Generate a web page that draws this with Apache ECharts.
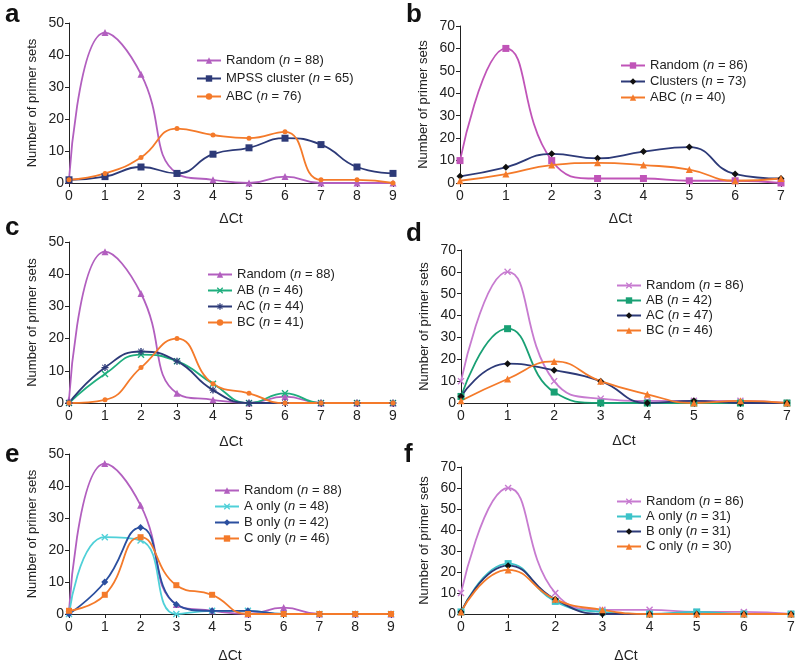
<!DOCTYPE html>
<html>
<head>
<meta charset="utf-8">
<script src="https://cdn.jsdelivr.net/npm/echarts@6/dist/echarts.min.js"></script>
<style>html,body{margin:0;padding:0;background:#fff}#c{width:800px;height:663px}</style>
</head>
<body>
<div id="c"></div>
<script>
// ---- data ----
const ct9 = [0,1,2,3,4,5,6,7,8,9];
const ct7 = [0,1,2,3,4,5,6,7];

// panel a
const aRandom = [1,47,34,3,1,0,2,0,0,0];
const aMpss   = [1,2,5,3,9,11,14,12,5,3];
const aAbc    = [1,3,8,17,15,14,16,1,1,0];
// panel b
const bRandom   = [10,60,10,2,2,1,1,0];
const bClusters = [3,7,13,11,14,16,4,2];
const bAbc      = [1,4,8,9,8,6,1,2];
// panel c
const cRandom = [1,47,34,3,1,0,2,0,0,0];
const cAB     = [0,9,15,13,6,0,3,0,0,0];
const cAC     = [0,11,16,13,4,0,0,0,0,0];
const cBC     = [0,1,11,20,6,3,0,0,0,0];
// panel d
const dRandom = [10,60,10,2,1,1,1,0];
const dAB     = [3,34,5,0,0,0,0,0];
const dAC     = [3,18,15,10,0,1,0,0];
const dBC     = [1,11,19,10,4,0,1,0];
// panel e
const eRandom = [1,47,34,3,1,0,2,0,0,0];
const eA      = [0,24,23,0,1,1,0,0,0,0];
const eB      = [0,10,27,3,1,1,0,0,0,0];
const eC      = [1,6,24,9,6,0,0,0,0,0];
// panel f
const fRandom = [10,60,10,2,2,1,1,0];
const fA      = [1,24,6,1,0,1,0,0];
const fB      = [1,23,7,0,0,0,0,0];
const fC      = [1,21,7,2,0,0,0,0];

// legend labels: [label, n]
const labels = {
  aR:['Random',88], aM:['MPSS cluster',65], aA:['ABC',76],
  bR:['Random',86], bC:['Clusters',73], bA:['ABC',40],
  cR:['Random',88], cAB:['AB',46], cAC:['AC',44], cBC:['BC',41],
  dR:['Random',86], dAB:['AB',42], dAC:['AC',47], dBC:['BC',46],
  eR:['Random',88], eA:['A only',48], eB:['B only',42], eC:['C only',46],
  fR:['Random',86], fA:['A only',31], fB:['B only',31], fC:['C only',30]
};

// ---- styles ----
const FONT = 'Liberation Sans, Arial, sans-serif';
const PURPLE = '#b25fbf', MAGENTA = '#c054b8', PINK = '#c77bd0';
const NAVY = '#2d3a78', ORANGE = '#f47a2a', GREEN = '#1fae7e', GREEN2 = '#19a074';
const CYAN = '#4fd0d8', CYAN2 = '#3cc3c9', BLUE = '#2b4f9f', BLACK = '#111';
const XSYM = 'path://M0,1.4L1.4,0L5,3.6L8.6,0L10,1.4L6.4,5L10,8.6L8.6,10L5,6.4L1.4,10L0,8.6L3.6,5Z';
const STAR = 'path://M4,0H6V3.2L8.6,0.6L9.4,1.4L6.8,4H10V6H6.8L9.4,8.6L8.6,9.4L6,6.8V10H4V6.8L1.4,9.4L0.6,8.6L3.2,6H0V4H3.2L0.6,1.4L1.4,0.6L4,3.2Z';

const grids = [
  {left:69, top:23, width:324, height:160},
  {left:460, top:26, width:321, height:157},
  {left:69, top:242, width:324, height:161},
  {left:461, top:250, width:326, height:153},
  {left:69, top:454, width:322, height:160},
  {left:461, top:467, width:330, height:147}
].map(g=>Object.assign(g,{containLabel:false, outerBoundsMode:'none'}));
const xMax = [9,7,9,7,9,7];
const yMax = [50,70,50,70,50,70];
const nameGaps = [29,29,32,31,35,35];

const axisLine = {show:true, lineStyle:{color:'#222', width:1}};
const xAxes = grids.map((g,i)=>({
  gridIndex:i, type:'value', min:0, max:xMax[i], interval:1,
  name:'ΔCt', nameLocation:'middle', nameGap:nameGaps[i],
  nameTextStyle:{fontFamily:FONT, fontSize:14, color:'#222'},
  axisLine, axisTick:{show:true, length:4, lineStyle:{color:'#222'}},
  axisLabel:{fontFamily:FONT, fontSize:14, color:'#222', margin:6},
  splitLine:{show:false}
}));
const yAxes = grids.map((g,i)=>({
  gridIndex:i, type:'value', min:0, max:yMax[i], interval:10,
  name:'Number of primer sets', nameLocation:'middle', nameGap:30, nameRotate:90,
  nameTextStyle:{fontFamily:FONT, fontSize:13, color:'#222'},
  axisLine, axisTick:{show:true, length:4, lineStyle:{color:'#222'}},
  axisLabel:{fontFamily:FONT, fontSize:14, color:'#222', margin:5},
  splitLine:{show:false}
}));

function mk(id, idx, xs, ys, color, symbol, size, markerColor){
  return {
    id:id, name:id, type:'line', xAxisIndex:idx, yAxisIndex:idx,
    data: xs.map((x,k)=>[x, ys[k]]),
    smooth:0.5, symbol:symbol, symbolSize:size, showSymbol:true,
    lineStyle:{color:color, width:1.8},
    itemStyle:{color:markerColor||color},
    z: 2
  };
}

const series = [
  mk('aR',0,ct9,aRandom,PURPLE,'triangle',7),
  mk('aM',0,ct9,aMpss,NAVY,'rect',7),
  mk('aA',0,ct9,aAbc,ORANGE,'circle',5),
  mk('bR',1,ct7,bRandom,MAGENTA,'rect',7),
  mk('bC',1,ct7,bClusters,NAVY,'diamond',7,BLACK),
  mk('bA',1,ct7,bAbc,ORANGE,'triangle',7),
  mk('cR',2,ct9,cRandom,PURPLE,'triangle',7),
  mk('cAB',2,ct9,cAB,GREEN,XSYM,7),
  mk('cAC',2,ct9,cAC,NAVY,STAR,7),
  mk('cBC',2,ct9,cBC,ORANGE,'circle',5),
  mk('dR',3,ct7,dRandom,PINK,XSYM,7),
  mk('dAB',3,ct7,dAB,GREEN2,'rect',7),
  mk('dAC',3,ct7,dAC,NAVY,'diamond',7,BLACK),
  mk('dBC',3,ct7,dBC,ORANGE,'triangle',7),
  mk('eR',4,ct9,eRandom,PURPLE,'triangle',7),
  mk('eA',4,ct9,eA,CYAN,XSYM,7),
  mk('eB',4,ct9,eB,BLUE,'diamond',7),
  mk('eC',4,ct9,eC,ORANGE,'rect',6),
  mk('fR',5,ct7,fRandom,PINK,XSYM,7),
  mk('fA',5,ct7,fA,CYAN2,'rect',7),
  mk('fB',5,ct7,fB,NAVY,'diamond',7,BLACK),
  mk('fC',5,ct7,fC,ORANGE,'triangle',7)
];

function fmt(name){
  const l = labels[name];
  return '{t|' + l[0] + ' (}{i|n}{t| = ' + l[1] + ')}';
}
const legTxt = {
  fontFamily:FONT, fontSize:13, color:'#222',
  rich:{ t:{fontFamily:FONT, fontSize:13, color:'#222'}, i:{fontFamily:FONT, fontSize:13, color:'#222', fontStyle:'italic'} }
};
function leg(ids, left, top, gap){
  return {data:ids, left:left, top:top, orient:'vertical', itemGap:gap, itemWidth:24, itemHeight:8,
    padding:0, formatter:fmt, textStyle:legTxt, selectedMode:false};
}
const legends = [
  leg(['aR','aM','aA'],196,54,5),
  leg(['bR','bC','bA'],620,59,3),
  leg(['cR','cAB','cAC','cBC'],207,268,3),
  leg(['dR','dAB','dAC','dBC'],616,279,2),
  leg(['eR','eA','eB','eC'],214,484,3),
  leg(['fR','fA','fB','fC'],616,495,2)
];

const panelLabels = [['a',5,24],['b',406,24],['c',5,237],['d',406,243],['e',5,464],['f',404,464]];
const graphic = panelLabels.map(p=>({
  type:'text', left:p[1], top:p[2]-22,
  style:{text:p[0], font:'bold 26px ' + FONT, fill:'#111'}
}));

const chart = echarts.init(document.getElementById('c'), null, {renderer:'canvas'});
chart.setOption({
  animation:false,
  backgroundColor:'#fff',
  grid:grids,
  xAxis:xAxes,
  yAxis:yAxes,
  legend:legends,
  series:series,
  graphic:graphic
});
</script>
</body>
</html>
